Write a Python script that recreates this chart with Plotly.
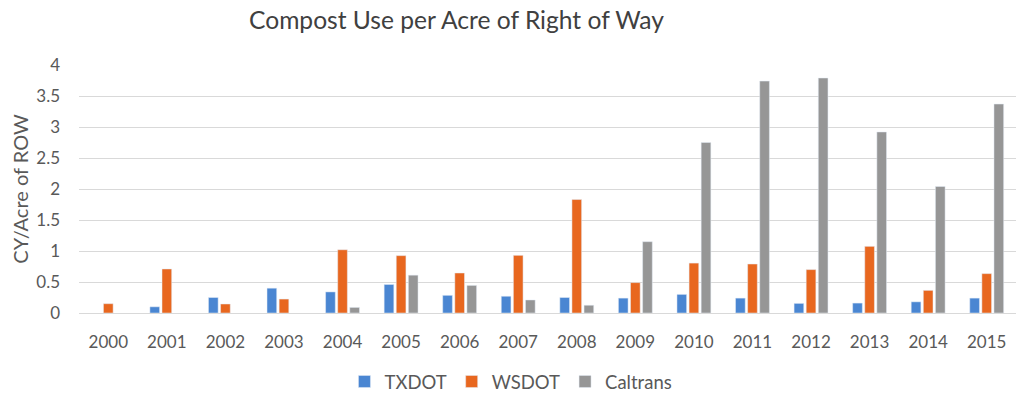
import plotly.graph_objects as go

years = [str(y) for y in range(2000, 2016)]
txdot = [None, 0.10, 0.25, 0.40, 0.34, 0.46, 0.285, 0.27, 0.25, 0.24, 0.30, 0.24, 0.155, 0.16, 0.18, 0.24]
wsdot = [0.15, 0.71, 0.145, 0.225, 1.02, 0.925, 0.645, 0.93, 1.83, 0.49, 0.805, 0.79, 0.70, 1.075, 0.365, 0.635]
caltrans = [None, None, None, None, 0.09, 0.61, 0.445, 0.21, 0.125, 1.15, 2.75, 3.74, 3.79, 2.92, 2.04, 3.37]
y_ticks = [0, 0.5, 1, 1.5, 2, 2.5, 3, 3.5, 4]
y_labels = ["0", "0.5", "1", "1.5", "2", "2.5", "3", "3.5", "4"]
title_text = "Compost Use per Acre of Right of Way"

FONT = "Lato, Open Sans, sans-serif"
fig = go.Figure()
fig.add_bar(x=years, y=txdot, name="TXDOT", marker_color="#4A86D2")
fig.add_bar(x=years, y=wsdot, name="WSDOT", marker_color="#E8671F")
fig.add_bar(x=years, y=caltrans, name="Caltrans", marker_color="#969696")

fig.update_layout(
    width=1016, height=395,
    paper_bgcolor="white", plot_bgcolor="white",
    margin=dict(l=71, r=8, t=57, b=90, autoexpand=False),
    barmode="group", bargap=0.38, bargroupgap=0.2,
    font=dict(family=FONT, color="#595959", size=17),
    legend=dict(orientation="h", x=0.461, xanchor="center", y=-0.278, yanchor="middle",
                font=dict(size=18.5, color="#595959"), itemwidth=30, traceorder="normal"),
    showlegend=True,
)
fig.add_annotation(text=title_text, xref="paper", yref="paper", x=0.403, y=1.185,
                   xanchor="center", yanchor="middle", showarrow=False,
                   font=dict(size=24.6, color="#404040", family=FONT))
fig.update_yaxes(range=[0, 4], tickvals=y_ticks, ticktext=y_labels,
                 showgrid=True, gridcolor="#d9d9d9", gridwidth=1,
                 zeroline=True, zerolinecolor="#d9d9d9", zerolinewidth=1,
                 showline=False, ticks="", tickfont=dict(size=17, color="#595959"),
                 ticklabelstandoff=18,
                 title=dict(text="CY/Acre of ROW", font=dict(size=20, color="#595959"), standoff=14))
fig.update_xaxes(showgrid=False, showline=False, ticks="", tickfont=dict(size=17, color="#595959"),
                 ticklabelstandoff=17)

fig.write_html("out.html")
